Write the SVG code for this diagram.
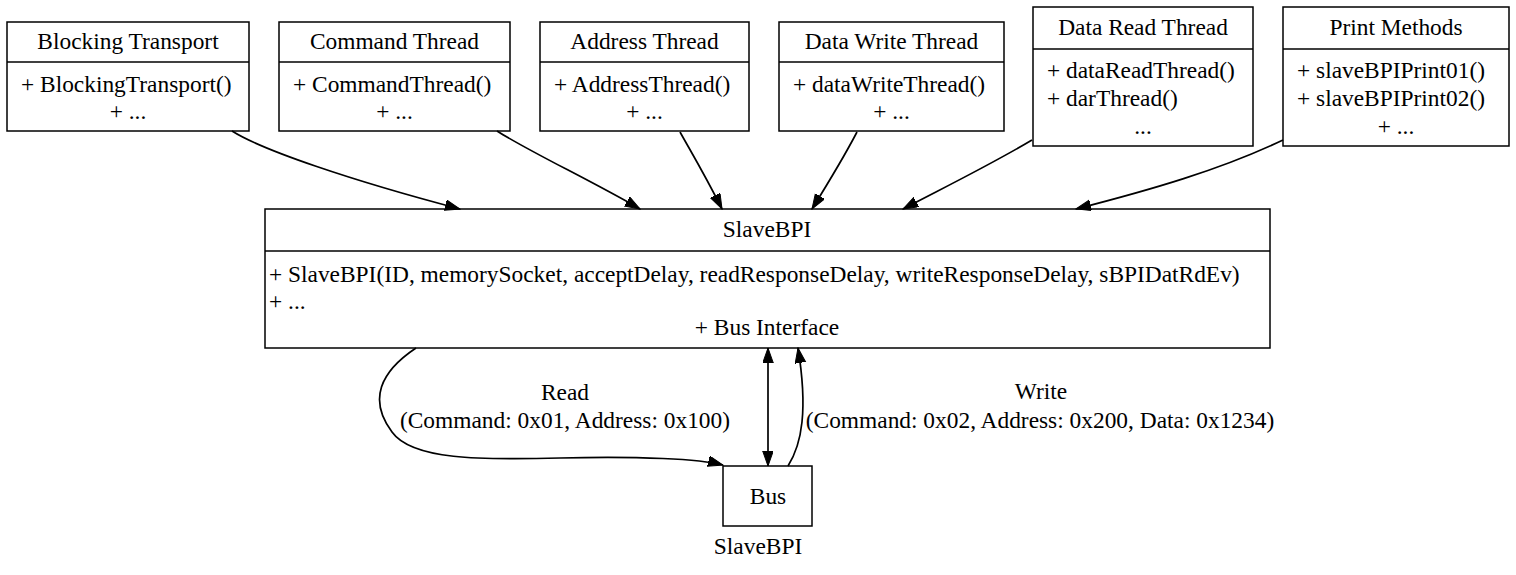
<svg xmlns="http://www.w3.org/2000/svg" width="1516" height="575" viewBox="0 0 1516 575">
<style>
text{font-family:"Liberation Serif","Times New Roman",serif;font-size:23.4px;fill:#000}
.c{text-anchor:middle}
.box{fill:#fff;stroke:#000;stroke-width:1.5}
.div{stroke:#000;stroke-width:1.5}
.edge{fill:none;stroke:#000;stroke-width:1.7}
</style>
<defs>
<marker id="ah" markerUnits="userSpaceOnUse" markerWidth="16" markerHeight="12" refX="15" refY="5.3" orient="auto-start-reverse">
<path d="M0,0 L15,5.3 L0,10.6 z" fill="#000" stroke="#000" stroke-width="1"/>
</marker>
</defs>
<rect width="1516" height="575" fill="#fff"/>

<g id="blocking">
<rect class="box" x="7" y="22" width="242" height="109"/>
<line class="div" x1="7" y1="62" x2="249" y2="62"/>
<text class="c" x="128" y="49">Blocking Transport</text>
<text x="21" y="92">+ BlockingTransport()</text>
<text class="c" x="128" y="119">+ ...</text>
</g>

<g id="command">
<rect class="box" x="279" y="22" width="231" height="109"/>
<line class="div" x1="279" y1="62" x2="510" y2="62"/>
<text class="c" x="394.5" y="49">Command Thread</text>
<text x="293" y="92">+ CommandThread()</text>
<text class="c" x="394.5" y="119">+ ...</text>
</g>

<g id="address">
<rect class="box" x="540" y="22" width="209" height="109"/>
<line class="div" x1="540" y1="62" x2="749" y2="62"/>
<text class="c" x="644.5" y="49">Address Thread</text>
<text x="554" y="92">+ AddressThread()</text>
<text class="c" x="644.5" y="119">+ ...</text>
</g>

<g id="datawrite">
<rect class="box" x="779" y="22" width="225" height="109"/>
<line class="div" x1="779" y1="62" x2="1004" y2="62"/>
<text class="c" x="891.5" y="49">Data Write Thread</text>
<text x="793" y="92">+ dataWriteThread()</text>
<text class="c" x="891.5" y="119">+ ...</text>
</g>

<g id="dataread">
<rect class="box" x="1033" y="7" width="220" height="139"/>
<line class="div" x1="1033" y1="49" x2="1253" y2="49"/>
<text class="c" x="1143" y="35">Data Read Thread</text>
<text x="1047" y="78">+ dataReadThread()</text>
<text x="1047" y="106">+ darThread()</text>
<text class="c" x="1143" y="134">...</text>
</g>

<g id="print">
<rect class="box" x="1283" y="7" width="226" height="139"/>
<line class="div" x1="1283" y1="49" x2="1509" y2="49"/>
<text class="c" x="1396" y="35">Print Methods</text>
<text x="1297" y="78">+ slaveBPIPrint01()</text>
<text x="1297" y="106">+ slaveBPIPrint02()</text>
<text class="c" x="1396" y="134">+ ...</text>
</g>

<g id="slavebpi">
<rect class="box" x="265" y="209" width="1005" height="139"/>
<line class="div" x1="265" y1="251" x2="1270" y2="251"/>
<text class="c" x="767" y="237">SlaveBPI</text>
<text x="269" y="282">+ SlaveBPI(ID, memorySocket, acceptDelay, readResponseDelay, writeResponseDelay, sBPIDatRdEv)</text>
<text x="269" y="309">+ ...</text>
<text class="c" x="767" y="335">+ Bus Interface</text>
</g>

<g id="bus">
<rect class="box" x="723" y="466" width="89" height="60"/>
<text class="c" x="768" y="504">Bus</text>
<text class="c" x="758" y="554">SlaveBPI</text>
</g>

<g id="connectors">
<path class="edge" marker-end="url(#ah)" d="M232,131 C262,150 350,180 460,209"/>
<path class="edge" marker-end="url(#ah)" d="M497,131 C530,152 590,180 640,209"/>
<path class="edge" marker-end="url(#ah)" d="M680,132 C690,150 705,175 722,209"/>
<path class="edge" marker-end="url(#ah)" d="M857,132 C845,155 830,180 812,209"/>
<path class="edge" marker-end="url(#ah)" d="M1032,140 C990,165 945,187 903,209"/>
<path class="edge" marker-end="url(#ah)" d="M1283,140 C1220,170 1150,190 1076,209"/>
<path class="edge" marker-end="url(#ah)" d="M416,348 C380,372 368,400 392,432 C412,460 480,460 560,458 C640,456 700,459 723,465"/>
<path class="edge" marker-start="url(#ah)" marker-end="url(#ah)" d="M768,348 L768,466"/>
<path class="edge" marker-end="url(#ah)" d="M788,466 C802,444 808,410 798,348"/>
<text class="c" x="565" y="400">Read</text>
<text class="c" x="565" y="428">(Command: 0x01, Address: 0x100)</text>
<text class="c" x="1041" y="399">Write</text>
<text class="c" x="1040" y="428">(Command: 0x02, Address: 0x200, Data: 0x1234)</text>
</g>
</svg>
